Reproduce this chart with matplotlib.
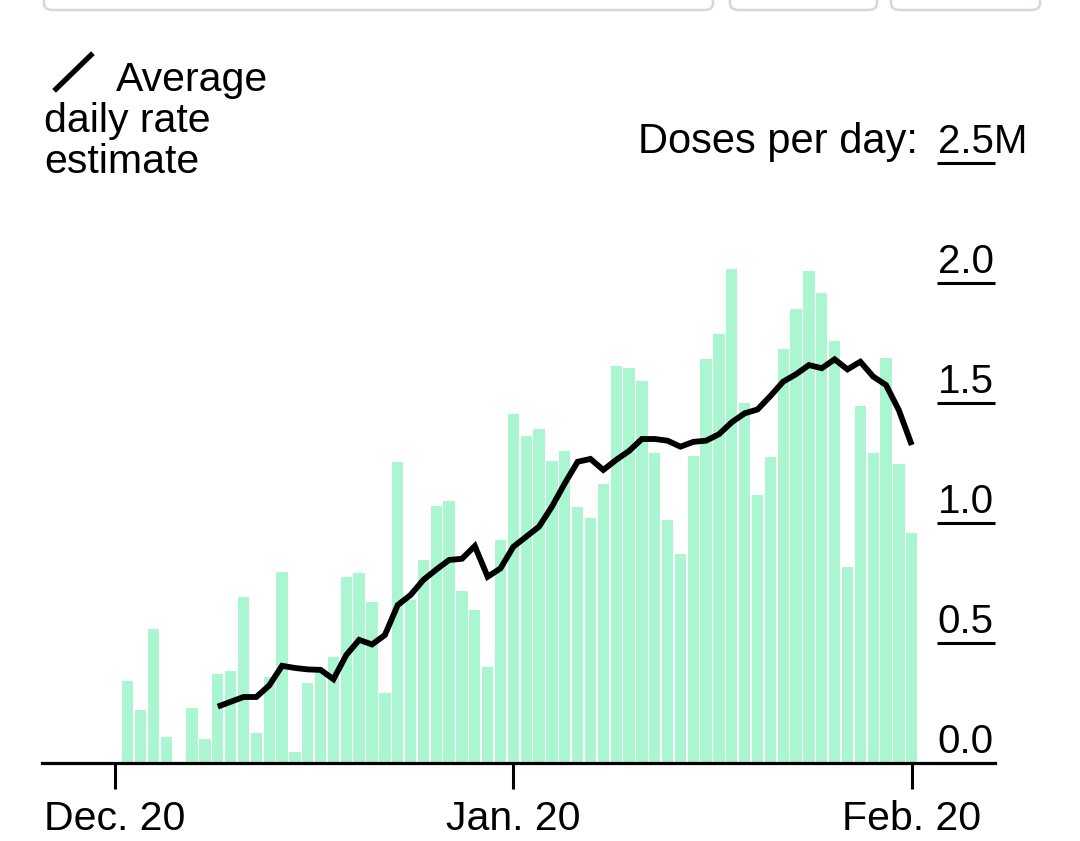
import matplotlib
matplotlib.use("Agg")
import matplotlib.pyplot as plt
from matplotlib.lines import Line2D
from matplotlib.patches import FancyBboxPatch
import pandas as pd

plt.rcParams['font.family'] = ['Liberation Sans', 'DejaVu Sans']

# daily doses (millions), Dec 21 2020 -> Feb 20 2021
dates = pd.date_range('2020-12-21', '2021-02-20', freq='D')
doses = [0.343, 0.22, 0.557, 0.11, 0.0, 0.23, 0.10, 0.37, 0.385, 0.69,
         0.124, 0.357, 0.796, 0.045, 0.334, 0.38, 0.443, 0.774, 0.79, 0.672,
         0.293, 1.253, 0.68, 0.846, 1.07, 1.093, 0.718, 0.636, 0.401, 0.928,
         1.454, 1.362, 1.39, 1.26, 1.30, 1.065, 1.022, 1.163, 1.654, 1.647,
         1.593, 1.29, 1.013, 0.87, 1.279, 1.685, 1.788, 2.058, 1.50, 1.117,
         1.274, 1.724, 1.89, 2.049, 1.96, 1.758, 0.818, 1.488, 1.293, 1.688,
         1.247, 0.958]

# average daily rate estimate, Dec 28 -> Feb 20
avg_dates = pd.date_range('2020-12-28', '2021-02-20', freq='D')
avg_rate = [0.235, 0.255, 0.275, 0.275, 0.323, 0.405, 0.396, 0.39, 0.388, 0.349,
            0.45, 0.513, 0.494, 0.533, 0.658, 0.70, 0.763, 0.806, 0.846, 0.851,
            0.904, 0.776, 0.811, 0.901, 0.943, 0.985, 1.068, 1.165, 1.255, 1.267,
            1.221, 1.263, 1.30, 1.35, 1.35, 1.343, 1.318, 1.338, 1.343, 1.37,
            1.42, 1.457, 1.473, 1.529, 1.589, 1.62, 1.658, 1.645, 1.682, 1.64,
            1.672, 1.61, 1.575, 1.47, 1.325]

tick_dates = pd.to_datetime(['2020-12-20', '2021-01-20', '2021-02-20'])
tick_labels = ['Dec. 20', 'Jan. 20', 'Feb. 20']
y_ticks = [0.0, 0.5, 1.0, 1.5, 2.0]
y_labels = ['0.0', '0.5', '1.0', '1.5', '2.0']

MINT = '#aaf6d1'
W, H = 1080, 841

fig = plt.figure(figsize=(W / 100, H / 100), dpi=100)
ax = fig.add_axes([42 / W, (H - 763) / H, (995 - 42) / W, (763 - 163) / H])

ax.bar(dates, doses, width=0.88, color=MINT, linewidth=0, zorder=1)
ax.plot(avg_dates, avg_rate, color='black', lw=4.2, solid_joinstyle='miter',
        solid_capstyle='butt', zorder=3)

start = pd.Timestamp('2020-12-20')
ax.set_xlim(start - pd.Timedelta(days=5.68), start + pd.Timedelta(days=68.48))
ax.set_ylim(0, 2.5)

for s in ['top', 'left', 'right']:
    ax.spines[s].set_visible(False)
ax.spines['bottom'].set_linewidth(2.3)
ax.spines['bottom'].set_zorder(4)

ax.set_xticks(tick_dates)
ax.set_xticklabels(tick_labels)
ax.tick_params(axis='x', length=19, width=2.2, pad=8, labelsize=29.5, direction='out')
ax.set_yticks([])

# right-side value labels with short underlines
ytr = ax.get_yaxis_transform()
for v, lab in zip(y_ticks + [2.5], y_labels + ['2.5']):
    ax.plot([0.939, 1.0], [v, v], transform=ytr, color='black', lw=2.2,
            clip_on=False, zorder=4, solid_capstyle='butt')
    ax.annotate(lab, xy=(1.0, v), xycoords=ytr, xytext=(-1, 7.5),
                textcoords='offset points', ha='right', va='baseline',
                fontsize=29, annotation_clip=False)
ax.annotate('M', xy=(1.0, 2.5), xycoords=ytr, xytext=(-1, 7.5),
            textcoords='offset points', ha='left', va='baseline',
            fontsize=29, annotation_clip=False)
ax.annotate('Doses per day:', xy=(1.0, 2.5), xycoords=ytr, xytext=(-55.5, 7.5),
            textcoords='offset points', ha='right', va='baseline',
            fontsize=30, annotation_clip=False)

# legend
fig.add_artist(Line2D([56 / W, 91 / W], [1 - 89 / H, 1 - 55 / H],
                      color='black', lw=3.8, transform=fig.transFigure))
fig.text(116 / W, 1 - 91 / H, 'Average', fontsize=29.5, va='baseline')
fig.text(44 / W, 1 - 132 / H, 'daily rate', fontsize=29.5, va='baseline')
fig.text(44 / W, 1 - 173 / H, 'estimate', fontsize=29.5, va='baseline')

# cut-off controls at the top edge
for x0, x1 in [(44, 713), (730, 877), (891, 1040)]:
    box = FancyBboxPatch((x0 / W, 1 - 10 / H), (x1 - x0) / W, 40 / H,
                         boxstyle='round,pad=0,rounding_size=0.008',
                         transform=fig.transFigure, facecolor='white',
                         edgecolor='#d3d8d8', lw=1.8)
    fig.add_artist(box)

fig.savefig('out.png', dpi=100)
